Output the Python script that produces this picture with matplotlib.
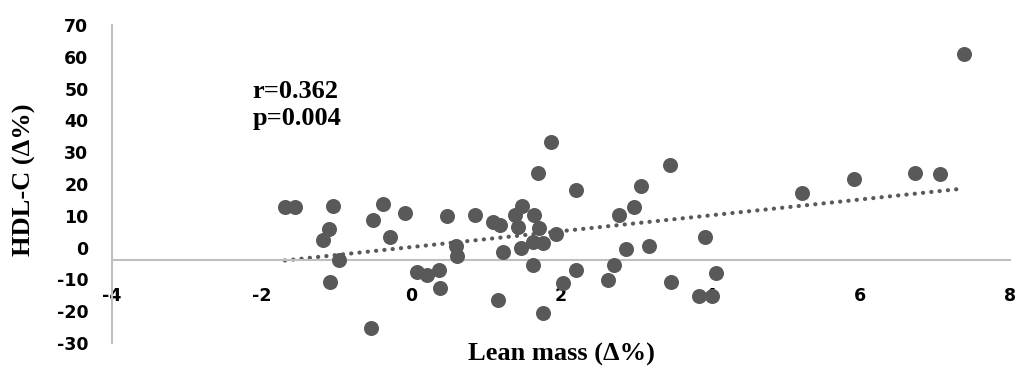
import numpy as np
import matplotlib
matplotlib.use("Agg")
import matplotlib.pyplot as plt

# Lean mass change vs HDL-C change (both in delta %)
lean_mass = [-1.69, -1.55, -1.05, -1.10, -1.18, -0.97, -1.09, -0.38, -0.51, -0.28,
             -0.54, -0.08, 0.07, 0.21, 0.37, 0.38, 0.47, 0.60, 0.61, 0.85,
             1.09, 1.18, 1.23, 1.16, 1.39, 1.48, 1.42, 1.47, 1.64, 1.69,
             1.62, 1.76, 1.86, 1.70, 1.93, 1.62, 1.76, 2.20, 2.20, 2.02,
             3.45, 3.07, 2.98, 2.78, 2.87, 3.17, 2.71, 2.63, 3.47, 3.92,
             4.07, 3.84, 4.02, 5.22, 5.92, 6.73, 7.06, 7.38]
hdl_c = [12.9, 12.9, 13.2, 6.0, 2.4, -3.9, -10.8, 13.7, 8.8, 3.3,
         -25.2, 10.9, -7.6, -8.6, -7.0, -12.7, 9.9, 0.6, -2.6, 10.3,
         8.0, 7.2, -1.4, -16.5, 10.4, 13.1, 6.6, -0.1, 10.4, 23.5,
         -5.6, -20.6, 33.3, 6.2, 4.2, 1.9, 1.3, 18.0, -7.2, -11.2,
         26.0, 19.5, 12.7, 10.3, -0.5, 0.6, -5.5, -10.2, -10.7, 3.4,
         -8.1, -15.2, -15.2, 17.1, 21.6, 23.4, 23.1, 60.9]
x_ticks = [-4, -2, 0, 2, 4, 6, 8]
y_ticks = [-30, -20, -10, 0, 10, 20, 30, 40, 50, 60, 70]
stats_text = "r=0.362\np=0.004"

grey = "#595959"
axis_grey = "#BFBFBF"

fig = plt.figure(figsize=(10.19, 3.77), dpi=100)
ax = fig.add_axes([0.1099, 0.0902, 0.8813, 0.8435])

ax.scatter(lean_mass, hdl_c, s=117, color=grey, linewidths=0, zorder=3)

# linear trendline
x = np.array(lean_mass)
slope, intercept = np.polyfit(x, hdl_c, 1)
xs = np.array([x.min(), x.max()])
ax.plot(xs, slope * xs + intercept, color=grey, lw=3, linestyle=(0, (0.05, 1.95)),
        dash_capstyle="round", zorder=2)

ax.set_xlim(-4, 8)
ax.set_ylim(-30, 70)
ax.set_xticks(x_ticks)
ax.set_yticks(y_ticks)

for s in ["top", "right"]:
    ax.spines[s].set_visible(False)
ax.spines["left"].set_color(axis_grey)
ax.spines["left"].set_linewidth(1.5)
ax.spines["bottom"].set_color(axis_grey)
ax.spines["bottom"].set_linewidth(1.5)
ax.spines["bottom"].set_position(("data", -4))

tick_font = {"family": "DejaVu Sans", "weight": "bold", "size": 12.5}
ax.set_xticklabels([str(t) for t in x_ticks], fontdict=tick_font)
ax.set_yticklabels([str(t) for t in y_ticks], fontdict=tick_font)
ax.tick_params(axis="x", length=0, pad=19)
ax.tick_params(axis="y", length=0, pad=17)

ax.set_xlabel("Lean mass (\u0394%)", family="Liberation Serif", weight="bold", size=19)
ax.set_ylabel("HDL-C (\u0394%)", family="Liberation Serif", weight="bold", size=19)
ax.xaxis.set_label_coords(0.5, 0.0)
ax.yaxis.set_label_coords(-0.085, 0.513)

ax.text(-2.12, 44.8, stats_text, family="Liberation Serif", weight="bold", size=19,
        va="center", ha="left", linespacing=1.2)

fig.savefig("out.png", dpi=100)
